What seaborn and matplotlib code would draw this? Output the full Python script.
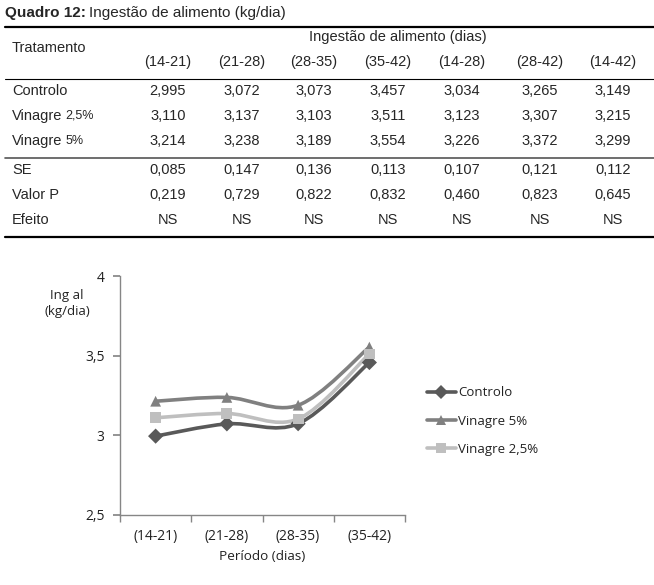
import numpy as np
import pandas as pd
import matplotlib
matplotlib.use("Agg")
import matplotlib.pyplot as plt
import seaborn as sns
from matplotlib.lines import Line2D
from matplotlib.path import Path
from matplotlib.patches import PathPatch

# ---------------- data ----------------
table_periods = ["(14-21)", "(21-28)", "(28-35)", "(35-42)", "(14-28)", "(28-42)", "(14-42)"]
controlo = [2.995, 3.072, 3.073, 3.457, 3.034, 3.265, 3.149]
vinagre_25 = [3.110, 3.137, 3.103, 3.511, 3.123, 3.307, 3.215]
vinagre_5 = [3.214, 3.238, 3.189, 3.554, 3.226, 3.372, 3.299]
se_vals = [0.085, 0.147, 0.136, 0.113, 0.107, 0.121, 0.112]
p_vals = [0.219, 0.729, 0.822, 0.832, 0.460, 0.823, 0.645]
efeito = ["NS"] * 7

chart_periods = table_periods[:4]
y_ticks = [2.5, 3.0, 3.5, 4.0]

W, H = 654, 585
sns.set_theme(style="white")
plt.rcParams['font.family'] = ['Liberation Sans', 'DejaVu Sans']
fig = plt.figure(figsize=(W / 100, H / 100), dpi=100)
renderer = fig.canvas.get_renderer()

def fx(x):
    return x / W

def fy(y):
    return 1 - y / H

def fmt(v):
    return f"{v:.3f}".replace(".", ",")

def right_px(t):
    return t.get_window_extent(renderer=renderer).x1

tfs = 10.5
# title
t1 = fig.text(fx(5), fy(13), "Quadro 12:", fontsize=11, fontweight="bold", va="center", ha="left")
fig.text((right_px(t1) + 3) / W, fy(13), "Ingestão de alimento (kg/dia)", fontsize=11, va="center", ha="left")

# table lines
fig.add_artist(Line2D([fx(5), fx(654)], [fy(27), fy(27)], color="black", lw=1.6))
fig.add_artist(Line2D([fx(5), fx(654)], [fy(79), fy(79)], color="black", lw=0.8))
fig.add_artist(Line2D([fx(5), fx(654)], [fy(158), fy(158)], color="#555555", lw=1.2))
fig.add_artist(Line2D([fx(5), fx(654)], [fy(237), fy(237)], color="black", lw=1.6))

fig.text(fx(12), fy(48), "Tratamento", fontsize=tfs, va="center", ha="left")
fig.text(fx(398), fy(37), "Ingestão de alimento (dias)", fontsize=tfs, va="center", ha="center")
col_x = [168, 242, 314, 388, 462, 540, 613]
for cx, lab in zip(col_x, table_periods):
    fig.text(fx(cx), fy(62), lab, fontsize=tfs, va="center", ha="center")

rows = [
    ("Controlo", None, controlo, 91),
    ("Vinagre", "2,5%", vinagre_25, 116),
    ("Vinagre", "5%", vinagre_5, 141),
    ("SE", None, se_vals, 170),
    ("Valor P", None, p_vals, 195),
]
for name, suffix, vals, yy in rows:
    t = fig.text(fx(12), fy(yy), name, fontsize=tfs, va="center", ha="left")
    if suffix:
        fig.text((right_px(t) + 3) / W, fy(yy), suffix, fontsize=9, va="center", ha="left")
    for cx, v in zip(col_x, vals):
        fig.text(fx(cx), fy(yy), fmt(v), fontsize=tfs, va="center", ha="center")
fig.text(fx(12), fy(220), "Efeito", fontsize=tfs, va="center", ha="left")
for cx, v in zip(col_x, efeito):
    fig.text(fx(cx), fy(220), v, fontsize=tfs, va="center", ha="center")

# ---------------- chart ----------------
cfont = ['Open Sans', 'DejaVu Sans']
ax = fig.add_axes([fx(120), fy(515), (405 - 120) / W, (515 - 276) / H])
series = [
    ("Controlo", controlo[:4], "#595959", "D", 7),
    ("Vinagre 5%", vinagre_5[:4], "#808080", "^", 8),
    ("Vinagre 2,5%", vinagre_25[:4], "#bfbfbf", "s", 8),
]
df = pd.DataFrame({
    "periodo": np.tile(np.arange(4), len(series)),
    "valor": np.concatenate([s[1] for s in series]),
    "serie": np.repeat([s[0] for s in series], 4),
})
palette = {s[0]: s[2] for s in series}
markers = {s[0]: s[3] for s in series}
sns.scatterplot(data=df, x="periodo", y="valor", hue="serie", style="serie",
                palette=palette, markers=markers, s=60, linewidth=0, ax=ax,
                legend=False, zorder=3)

def smooth_path(xs, ys):
    pts = np.column_stack([xs, ys]).astype(float)
    ext = np.vstack([pts[0], pts, pts[-1]])
    verts = [tuple(pts[0])]
    codes = [Path.MOVETO]
    for i in range(len(pts) - 1):
        p0, p1, p2, p3 = ext[i], ext[i + 1], ext[i + 2], ext[i + 3]
        c1 = p1 + (p2 - p0) / 6
        c2 = p2 - (p3 - p1) / 6
        verts += [tuple(c1), tuple(c2), tuple(p2)]
        codes += [Path.CURVE4] * 3
    return Path(verts, codes)

for name, vals, col, mk, ms in series:
    sub = df[df.serie == name]
    patch = PathPatch(smooth_path(sub.periodo.values, sub.valor.values),
                      facecolor="none", edgecolor=col, lw=2.6, zorder=2)
    ax.add_patch(patch)

ax.set_xlim(-0.5, 3.5)
ax.set_ylim(2.5, 4.0)
ax.set_yticks(y_ticks)
ax.set_yticklabels([f"{v:g}".replace(".", ",") for v in y_ticks])
ax.set_xticks(range(4))
ax.set_xticklabels(chart_periods)
ax.set_xticks(np.arange(-0.5, 4, 1), minor=True)
ax.tick_params(axis="x", which="major", length=0, pad=10, labelsize=10)
ax.tick_params(axis="x", which="minor", length=5, color="#868686", direction="out", bottom=True)
ax.tick_params(axis="y", length=5, color="#868686", direction="out", left=True, labelsize=10, pad=6)
for lab in ax.get_xticklabels() + ax.get_yticklabels():
    lab.set_fontfamily(cfont)
    lab.set_color("#222222")
for sp in ["top", "right"]:
    ax.spines[sp].set_visible(False)
for sp in ["left", "bottom"]:
    ax.spines[sp].set_color("#868686")
    ax.spines[sp].set_linewidth(1.0)
ax.set_xlabel("")
ax.set_ylabel("")
ax.patch.set_alpha(0)

fig.text(fx(67), fy(304), "Ing al\n(kg/dia)", fontsize=9.5, ha="center", va="center",
         family=cfont, linespacing=1.3, color="#222222")
fig.text(fx(262), fy(556), "Período (dias)", fontsize=9.7, ha="center", va="center",
         family=cfont, color="#222222")

handles = [Line2D([], [], color=col, marker=mk, markersize=ms * 0.95, lw=2.6, markeredgewidth=0)
           for name, vals, col, mk, ms in series]
leg = fig.legend(handles, [s[0] for s in series], loc="center left",
                 bbox_to_anchor=(fx(415), fy(421)), frameon=False, handlelength=2.2,
                 handletextpad=0.15, labelspacing=1.15,
                 prop={'family': cfont, 'size': 9.5})
for txt in leg.get_texts():
    txt.set_color("#222222")

fig.savefig("out.png", dpi=100)
